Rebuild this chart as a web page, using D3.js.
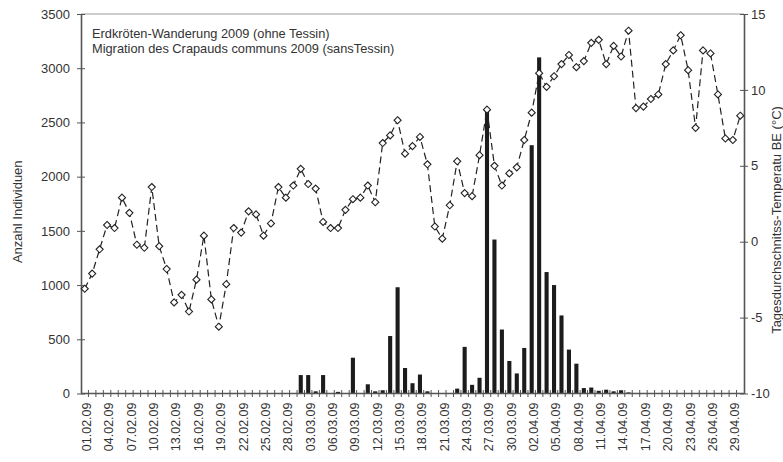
<!DOCTYPE html>
<html>
<head>
<meta charset="utf-8">
<script src="https://cdn.jsdelivr.net/npm/d3@7"></script>
<style>
  html, body { margin: 0; padding: 0; background: #fff; }
  svg { display: block; }
  text { font-family: "Liberation Sans", Arial, Helvetica, sans-serif; fill: #333; }
</style>
</head>
<body>
<svg id="chart" width="783" height="462"></svg>
<script>
// Daily counts of migrating toads and daily mean temperature, 1 Feb – 30 Apr 2009
const firstDay = new Date(2009, 1, 1);
const lastDay = new Date(2009, 3, 30);

const counts = [
  0, 0, 0, 0, 0, 0, 0, 0, 0, 0,
  0, 0, 0, 0, 0, 0, 0, 0, 0, 0,
  0, 0, 0, 0, 0, 0, 0, 0, 0, 170,
  170, 20, 170, 0, 15, 0, 330, 0, 85, 20,
  30, 530, 980, 235, 95, 175, 20, 0, 0, 0,
  45, 430, 80, 145, 2600, 1420, 590, 300, 185, 420,
  2290, 3100, 1120, 1000, 720, 405, 275, 50, 55, 25,
  35, 20, 30, 10, 0, 0, 0, 0, 0, 0,
  0, 0, 0, 0, 0, 0, 0, 0, 0
];

const temperature = [
  -3.1, -2.1, -0.5, 1.1, 0.9, 2.9, 1.9, -0.2, -0.4, 3.6,
  -0.3, -1.8, -4.0, -3.5, -4.6, -2.5, 0.4, -3.8, -5.6, -2.8,
  0.9, 0.6, 2.0, 1.8, 0.4, 1.2, 3.6, 2.9, 3.7, 4.8,
  3.8, 3.5, 1.3, 0.9, 0.9, 2.1, 2.8, 2.9, 3.7, 2.6,
  6.5, 7.0, 8.0, 5.8, 6.3, 6.9, 5.1, 1.0, 0.2, 2.4,
  5.3, 3.2, 3.0, 5.7, 8.7, 5.0, 3.7, 4.5, 4.9, 6.7,
  8.5, 11.1, 10.2, 10.9, 11.7, 12.3, 11.5, 11.9, 13.1, 13.3,
  11.7, 12.9, 12.2, 13.9, 8.8, 8.9, 9.4, 9.7, 11.7, 12.6,
  13.6, 11.3, 7.5, 12.6, 12.4, 9.7, 6.8, 6.7, 8.3
];

const dateLabels = [
  "01.02.09", "04.02.09", "07.02.09", "10.02.09", "13.02.09", "16.02.09",
  "19.02.09", "22.02.09", "25.02.09", "28.02.09", "03.03.09", "06.03.09",
  "09.03.09", "12.03.09", "15.03.09", "18.03.09", "21.03.09", "24.03.09",
  "27.03.09", "30.03.09", "02.04.09", "05.04.09", "08.04.09", "11.04.09",
  "14.04.09", "17.04.09", "20.04.09", "23.04.09", "26.04.09", "29.04.09"
];

const countTicks = [0, 500, 1000, 1500, 2000, 2500, 3000, 3500];
const tempTicks = [-10, -5, 0, 5, 10, 15];

const titleLines = [
  "Erdkröten-Wanderung 2009 (ohne Tessin)",
  "Migration des Crapauds communs 2009 (sansTessin)"
];
const leftTitle = "Anzahl Individuen";
const rightTitle = "Tagesdurchschnitss-Temperatu BE (°C)";

const fmt = d3.timeFormat("%d.%m.%y");
const days = d3.timeDay.range(firstDay, d3.timeDay.offset(lastDay, 1)).map(fmt);

const margin = { left: 81, right: 39, top: 14, bottom: 68 };
const W = 783, H = 462;
const svg = d3.select("#chart");

const x = d3.scaleBand().domain(days).range([margin.left, W - margin.right]).paddingInner(0.45).paddingOuter(0.225);
const xStep = d3.scaleBand().domain(days).range([margin.left, W - margin.right]);
const yL = d3.scaleLinear().domain([0, 3500]).range([H - margin.bottom - 0.5, margin.top]);
const yR = d3.scaleLinear().domain([-10, 15]).range([H - margin.bottom - 0.5, margin.top]);

const x0 = margin.left, x1 = W - margin.right;
const yBase = yL(0), yTop = yL(3500);

// top frame line
svg.append("line").attr("x1", x0).attr("x2", x1).attr("y1", yTop).attr("y2", yTop)
  .attr("stroke", "#9a9a9a").attr("stroke-width", 1);

// bars
svg.append("g").selectAll("rect").data(counts).join("rect")
  .attr("x", (d, i) => x(days[i]))
  .attr("width", x.bandwidth())
  .attr("y", d => yL(d))
  .attr("height", d => yBase - yL(d))
  .attr("fill", "#1c1c1c");

// left axis
const axL = svg.append("g").attr("transform", `translate(${x0},0)`)
  .call(d3.axisLeft(yL).tickValues(countTicks).tickFormat(d3.format("d")).tickSize(4).tickSizeOuter(0));
axL.select(".domain").attr("stroke", "#555").attr("stroke-width", 1.6);
axL.selectAll(".tick line").attr("stroke", "#555").attr("x2", 4).attr("x1", -4);
axL.selectAll(".tick text").attr("x", -11).attr("font-size", 13).attr("fill", "#333");

// right axis
const axR = svg.append("g").attr("transform", `translate(${x1},0)`)
  .call(d3.axisRight(yR).tickValues(tempTicks).tickSize(4).tickSizeOuter(0));
axR.select(".domain").attr("stroke", "#555").attr("stroke-width", 1.6);
axR.selectAll(".tick line").attr("stroke", "#555").attr("x1", -4).attr("x2", 4);
axR.selectAll(".tick text").attr("x", 7).attr("font-size", 13).attr("fill", "#333")
  .text(d => d < 0 ? "-" + Math.abs(d) : d);

// bottom axis with ticks between days
const axB = svg.append("g");
axB.append("line").attr("x1", x0).attr("x2", x1).attr("y1", yBase).attr("y2", yBase)
  .attr("stroke", "#555").attr("stroke-width", 1.6);
axB.selectAll("line.tk").data(days.slice(1)).join("line").attr("class", "tk")
  .attr("x1", d => xStep(d)).attr("x2", d => xStep(d))
  .attr("y1", yBase - 3.5).attr("y2", yBase + 3.5)
  .attr("stroke", "#555").attr("stroke-width", 1);
axB.selectAll("text").data(dateLabels).join("text")
  .attr("transform", d => `translate(${xStep(d) + xStep.bandwidth() / 2 + 2},${yBase + 9}) rotate(-90)`)
  .attr("text-anchor", "end").attr("dy", "0.35em")
  .attr("font-size", 12.5).attr("fill", "#333")
  .text(d => d);

// temperature line
const line = d3.line()
  .x((d, i) => xStep(days[i]) + xStep.bandwidth() / 2)
  .y(d => yR(d));
svg.append("path").datum(temperature)
  .attr("d", line).attr("fill", "none")
  .attr("stroke", "#222").attr("stroke-width", 1.2).attr("stroke-dasharray", "7,4");

svg.append("g").selectAll("path").data(temperature).join("path")
  .attr("transform", (d, i) => `translate(${xStep(days[i]) + xStep.bandwidth() / 2},${yR(d)})`)
  .attr("d", d3.symbol(d3.symbolDiamond2, 32))
  .attr("fill", "#fff").attr("stroke", "#222").attr("stroke-width", 1.1);

// title lines
svg.append("g").selectAll("text").data(titleLines).join("text")
  .attr("x", 92).attr("y", (d, i) => 38 + i * 15)
  .attr("font-size", 12.8).attr("fill", "#333")
  .text(d => d);

// axis titles
svg.append("text")
  .attr("transform", `translate(22,${(yTop + yBase) / 2 + 8}) rotate(-90)`)
  .attr("text-anchor", "middle").attr("font-size", 13).attr("fill", "#333")
  .text(leftTitle);
svg.append("text")
  .attr("transform", `translate(781,${220}) rotate(-90)`)
  .attr("text-anchor", "middle").attr("font-size", 13).attr("fill", "#333")
  .text(rightTitle);
</script>
</body>
</html>
